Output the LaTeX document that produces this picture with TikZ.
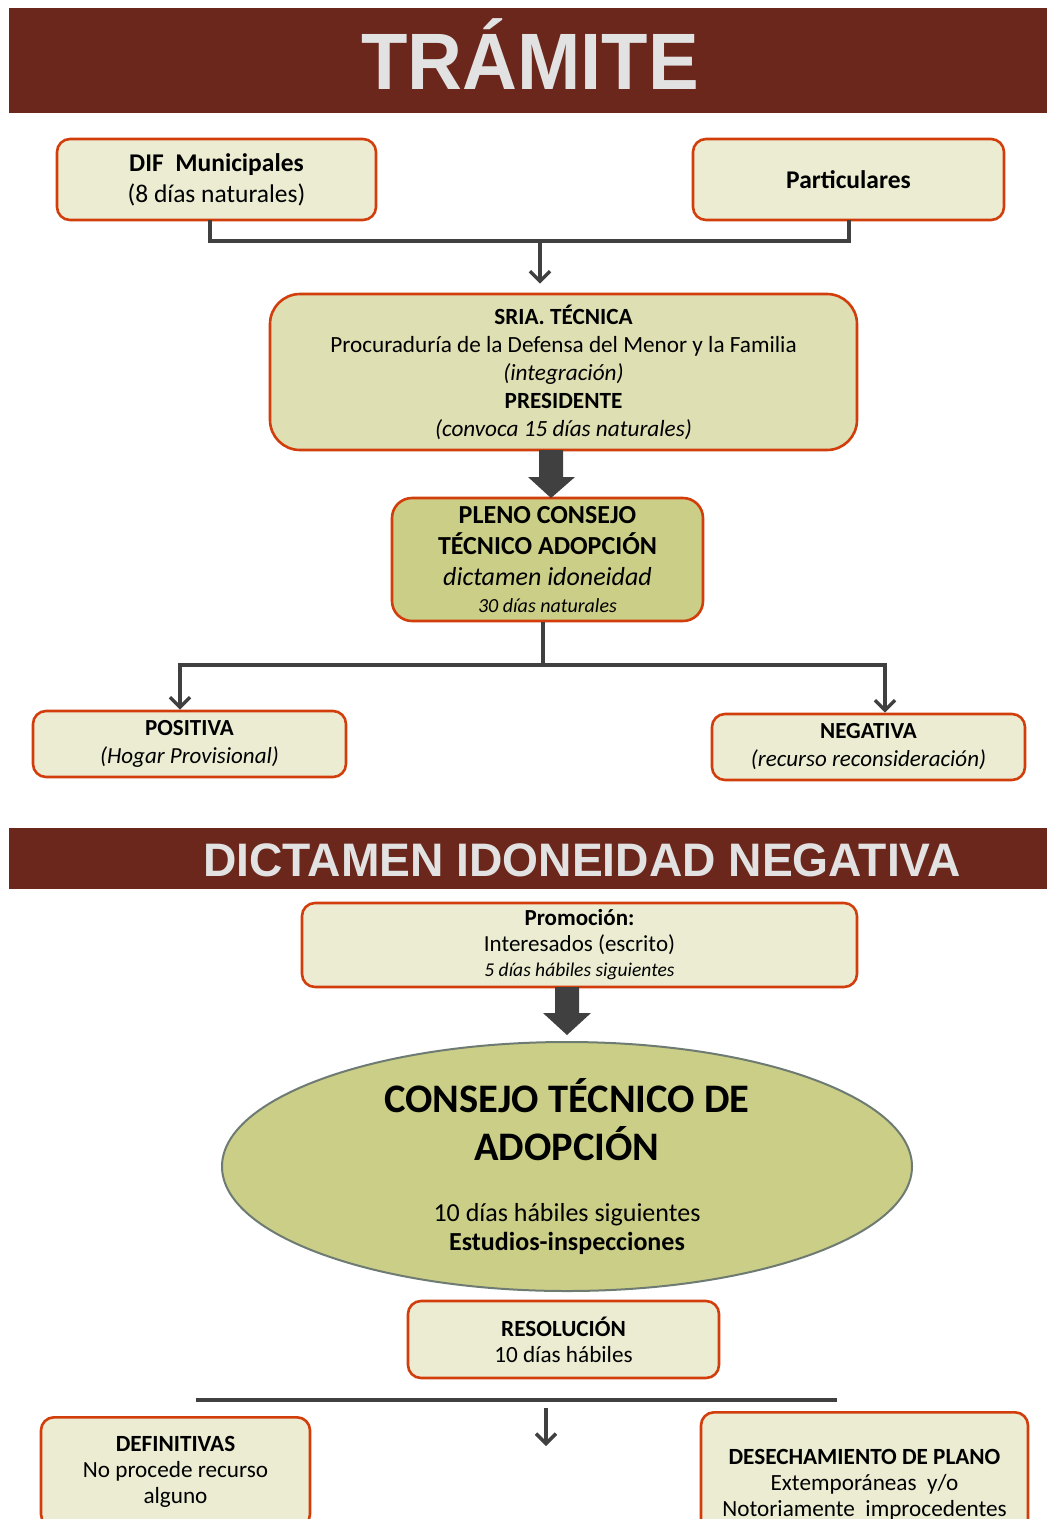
\documentclass[tikz,border=0pt]{standalone}
\usepackage{fontspec}
\setmainfont{Carlito}
\newfontfamily\titlefont{Liberation Sans}
\usetikzlibrary{arrows.meta,calc,shapes.geometric}
\definecolor{barred}{HTML}{6B271B}
\definecolor{edgered}{HTML}{D23D0C}
\definecolor{cream}{HTML}{ECECD2}
\definecolor{khaki}{HTML}{DEDFB3}
\definecolor{olive}{HTML}{CBCE86}
\definecolor{ellfill}{HTML}{CBCE86}
\definecolor{elledge}{HTML}{6E7B72}
\definecolor{conn}{HTML}{404040}
\definecolor{silver}{HTML}{E2E2E2}
\tikzset{
  x=1pt, y=-1pt,
  box/.style={draw=edgered, line width=2.6pt, rounded corners=13pt, fill=cream,
    align=center, inner sep=0pt, text=black},
  bar/.style={fill=barred, draw=none},
  bartitle/.style={text=silver, inner sep=0pt},
  conline/.style={draw=conn, line width=3.5pt},
  conarrow/.style={draw=conn, line width=3.5pt, -{Straight Barb[length=10pt,width=20pt,line width=3.5pt]}},
  blockarrow/.style={fill=conn, draw=none},
}
\begin{document}
\begin{tikzpicture}
\useasboundingbox (0,0) rectangle (1047,1519);
\begin{scope}
\clip (0,0) rectangle (1047,1519);

% title bars
\fill[bar] (9,8) rectangle (1047,113);
\node[bartitle, font=\titlefont\bfseries\fontsize{80}{80}\selectfont, xscale=0.95] (t1) at (530,54) {TRÁMITE};
\fill[bar] (9,828) rectangle (1047,889);
\node[bartitle, font=\titlefont\bfseries\fontsize{47}{47}\selectfont, xscale=0.983] (t2) at (582,860) {DICTAMEN IDONEIDAD NEGATIVA};

% top boxes
\node[box, minimum width=319pt, minimum height=81pt, font=\fontsize{25.5}{31}\selectfont] (dif) at (216.5,179.5)
  {\textbf{DIF\ \ Municipales}\\(8 días naturales)};
\node[box, minimum width=311pt, minimum height=81pt, font=\fontsize{25.5}{31}\selectfont\bfseries] (part) at (848.5,179.5)
  {Particulares};

\coordinate (j1) at (540,241);
\draw[conline] (210,220) -- (210,241) -- (849,241) -- (849,220);
\node[box, fill=khaki, rounded corners=30pt, minimum width=587pt, minimum height=156pt, font=\fontsize{23.2}{28}\selectfont] (sria) at (563.5,372)
  {\textbf{SRIA. TÉCNICA}\\Procuraduría de la Defensa del Menor y la Familia\\\textit{(integración)}\\\textbf{PRESIDENTE}\\\textit{(convoca 15 días naturales)}};
\draw[conarrow, shorten >=9pt] (j1) -- (j1 |- sria.north);

\node[box, fill=olive, rounded corners=20pt, minimum width=311pt, minimum height=123pt, font=\fontsize{26}{31}\selectfont] (pleno) at (547.5,559.5)
  {\textbf{PLENO CONSEJO}\\\textbf{TÉCNICO ADOPCIÓN}\\\textit{dictamen idoneidad}\\[-4pt]{\fontsize{20}{24}\selectfont\itshape 30 días naturales}};

% block arrow sria -> pleno
\fill[blockarrow] (539,450) -- (563,450) -- (563,477) -- (575,477) -- (551,498) -- (528,477) -- (539,477) -- cycle;

\node[box, minimum width=313pt, minimum height=66pt, font=\fontsize{23}{28}\selectfont] (pos) at (189.5,744)
  {\textbf{POSITIVA}\\\textit{(Hogar Provisional)}};
\node[box, minimum width=313pt, minimum height=66pt, font=\fontsize{23}{28}\selectfont] (neg) at (868.5,747)
  {\textbf{NEGATIVA}\\\textit{(recurso reconsideración)}};

\coordinate (j2) at (543,665);
\coordinate (pl) at (180,663.25);
\coordinate (pr) at (885,663.25);
\draw[conline] (pleno.south -| j2) -- (j2);
\draw[conline] (180,665) -- (885,665);
\draw[conarrow] (pl) -- (pl |- pos.north);
\draw[conarrow] (pr) -- (pr |- neg.north);

% section 2
\node[box, minimum width=555pt, minimum height=84pt, font=\fontsize{23}{25.5}\selectfont] (prom) at (579.5,945)
  {\textbf{Promoción:}\\Interesados (escrito)\\{\fontsize{19.5}{24}\selectfont\itshape 5 días hábiles siguientes}};

\node[ellipse, draw=elledge, line width=2pt, fill=ellfill, minimum width=690pt, minimum height=249pt, inner sep=0pt, align=center,
  font=\fontsize{26}{29}\selectfont] (cons) at (567,1166.5)
  {{\fontsize{40.5}{46}\selectfont\bfseries CONSEJO TÉCNICO DE}\\[12pt]{\fontsize{40.5}{46}\selectfont\bfseries ADOPCIÓN}\\[32pt]10 días hábiles siguientes\\\textbf{Estudios-inspecciones}};

% block arrow prom -> cons
\fill[blockarrow] (555,987) -- (579,987) -- (579,1013) -- (591,1013) -- (567,1035) -- (543,1013) -- (555,1013) -- cycle;

\node[box, minimum width=311pt, minimum height=77pt, font=\fontsize{23.2}{26}\selectfont] (res) at (563.5,1339.5)
  {\textbf{RESOLUCIÓN}\\10 días hábiles};

\coordinate (hl) at (196,1400);
\coordinate (hr) at (837,1400);
\draw[conline] (hl) -- (hr);
\coordinate (a1) at (546,1408);
\coordinate (a2) at (546,1446);
\draw[conarrow] (a1) -- (a2);

\node[box, minimum width=269pt, minimum height=110pt, anchor=north, font=\fontsize{23.2}{26}\selectfont] (def) at (175.5,1416)
  {\textbf{DEFINITIVAS}\\No procede recurso\\alguno};
\node[box, minimum width=327pt, minimum height=144pt, anchor=north, font=\fontsize{23.2}{26}\selectfont] (des) at (864.5,1411)
  {\textbf{DESECHAMIENTO DE PLANO}\\Extemporáneas\ \ y/o\\Notoriamente\ \ improcedentes};
\end{scope}
\end{tikzpicture}
\end{document}
